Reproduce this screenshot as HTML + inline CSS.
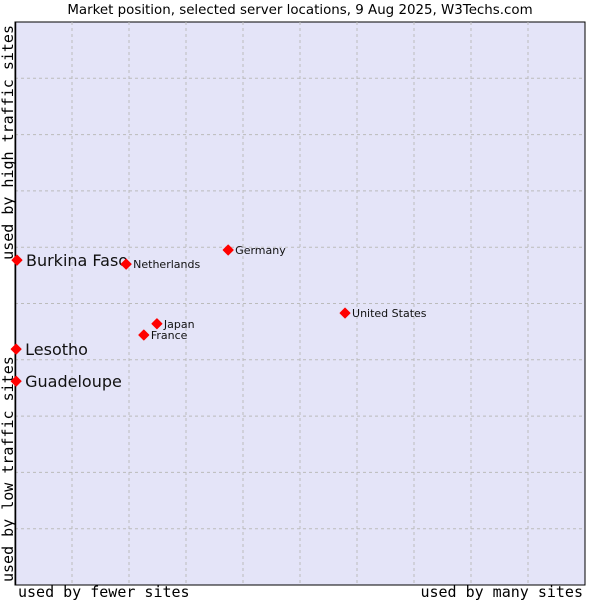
<!DOCTYPE html>
<html><head><meta charset="utf-8"><style>
html,body{margin:0;padding:0;background:#fff;width:600px;height:600px;overflow:hidden}
svg text{font-family:"DejaVu Sans","Liberation Sans",sans-serif}
.mono{font-family:"DejaVu Sans Mono","Liberation Mono",monospace}
</style></head><body>
<svg id="chart" width="600" height="600">
<text x="300" y="14" text-anchor="middle" font-size="13.4" fill="#000">Market position, selected server locations, 9 Aug 2025, W3Techs.com</text>
<rect x="15" y="22" width="570" height="563" fill="#e4e4f8" stroke="#000" stroke-width="1"/>
<g id="grid"></g>
<line x1="15.5" y1="22" x2="15.5" y2="585" stroke="#000" stroke-width="1.5"/>
<text class="mono" x="18" y="597" font-size="15">used by fewer sites</text>
<text class="mono" x="583" y="597" font-size="15" text-anchor="end">used by many sites</text>
<text class="mono" transform="translate(13,582) rotate(-90)" font-size="15">used by low traffic sites</text>
<text class="mono" transform="translate(13,25) rotate(-90)" font-size="15" text-anchor="end">used by high traffic sites</text>
<g id="points"></g>
</svg>
<script>
const names = ["Burkina Faso","Netherlands","Germany","United States","Japan","France","Lesotho","Guadeloupe"];
const xVals = [0.35,19.5,37.4,57.9,24.9,22.6,0.2,0.2];
const yVals = [57.7,57.0,59.5,48.3,46.4,44.4,41.9,36.2];
const big = [true,false,false,false,false,false,true,true];
const NS="http://www.w3.org/2000/svg";
const X0=15,X1=585,Y0=585,Y1=22;
function sx(v){return X0+(X1-X0)*v/100;}
function sy(v){return Y0-(Y0-Y1)*v/100;}
const grid=document.getElementById('grid');
for(let i=1;i<10;i++){
  const l=document.createElementNS(NS,'line');
  l.setAttribute('x1',sx(i*10));l.setAttribute('x2',sx(i*10));l.setAttribute('y1',Y1);l.setAttribute('y2',Y0);
  l.setAttribute('stroke','#bbb');l.setAttribute('stroke-dasharray','3,3');
  
  
  grid.appendChild(l);
  const h=document.createElementNS(NS,'line');
  h.setAttribute('y1',sy(i*10));h.setAttribute('y2',sy(i*10));h.setAttribute('x1',X0);h.setAttribute('x2',X1);
  h.setAttribute('stroke','#bbb');h.setAttribute('stroke-dasharray','3,3');
  
  
  grid.appendChild(h);
}
const pts=document.getElementById('points');
names.forEach((n,i)=>{
  const x=sx(xVals[i]),y=sy(yVals[i]);
  const p=document.createElementNS(NS,'polygon');
  p.setAttribute('points',`${x},${y-5} ${x+5},${y} ${x},${y+5} ${x-5},${y}`);
  p.setAttribute('fill','#f00');p.setAttribute('stroke','#f00');p.setAttribute('stroke-width','1');p.setAttribute('stroke-linejoin','round');
  
  
  pts.appendChild(p);
  const t=document.createElementNS(NS,'text');
  t.setAttribute('x',x+(big[i]?9:7));t.setAttribute('y',y+(big[i]?6:4));
  t.setAttribute('font-size',big[i]?'16':'11');t.setAttribute('fill','#111');
  t.textContent=n;
  
  
  pts.appendChild(t);
});
</script>
</body></html>
